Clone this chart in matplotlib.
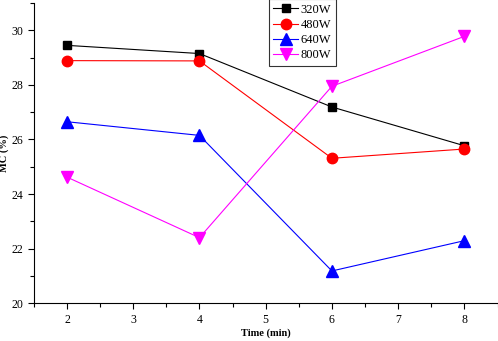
import matplotlib
matplotlib.use("Agg")
import matplotlib.pyplot as plt
from matplotlib.ticker import MultipleLocator

plt.rcParams["font.family"] = ["Liberation Serif", "DejaVu Serif"]

time = [2, 4, 6, 8]
mc_320 = [29.45, 29.15, 27.19, 25.77]
mc_480 = [28.89, 28.88, 25.31, 25.65]
mc_640 = [26.65, 26.15, 21.18, 22.29]
mc_800 = [24.62, 22.40, 27.95, 29.78]

labels = ["320W", "480W", "640W", "800W"]
series = [mc_320, mc_480, mc_640, mc_800]
colors = ["black", "red", "blue", "#ff00ff"]
markers = ["s", "o", "^", "v"]
msizes = [6, 7.5, 8, 8]

fig = plt.figure(figsize=(4.98, 3.41), dpi=100)
ax = fig.add_axes([0.068, 0.111, 0.931, 0.880])

for vals, lab, c, m, ms in zip(series, labels, colors, markers, msizes):
    ax.plot(time, vals, color=c, marker=m, markersize=ms, lw=0.8, label=lab)

ax.set_xlim(1.5, 8.5)
ax.set_ylim(20, 31)
ax.xaxis.set_major_locator(MultipleLocator(1))
ax.xaxis.set_minor_locator(MultipleLocator(0.5))
ax.yaxis.set_major_locator(MultipleLocator(2))
ax.yaxis.set_minor_locator(MultipleLocator(1))
ax.tick_params(which="major", length=4, width=0.8, labelsize=8.5)
ax.tick_params(which="minor", length=3, width=0.8)
ax.spines["top"].set_visible(False)
ax.spines["right"].set_visible(False)

ax.set_xlabel("Time (min)", fontsize=7.5, fontweight="bold", labelpad=2)
ax.set_ylabel("MC (%)", fontsize=7.5, fontweight="bold", labelpad=2)

leg = ax.legend(loc="upper left", bbox_to_anchor=(0.507, 1.012), fontsize=9,
                frameon=True, fancybox=False, edgecolor="black",
                handlelength=2.0, handletextpad=0.2, borderpad=0.35,
                labelspacing=0.25, borderaxespad=0)
leg.get_frame().set_linewidth(0.8)

fig.savefig("out.png", dpi=100)
